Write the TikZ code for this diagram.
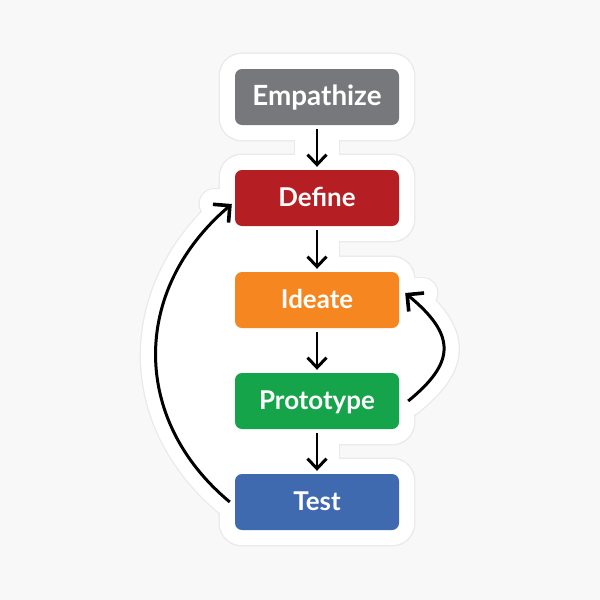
\documentclass[tikz,border=0pt]{standalone}
\usepackage{fontspec}
\setmainfont{Lato}
\usetikzlibrary{arrows.meta,backgrounds,calc}
\definecolor{pagebg}{HTML}{F8F8F8}
\definecolor{halogray}{HTML}{E9E9E9}
\definecolor{cgray}{HTML}{77787B}
\definecolor{cred}{HTML}{B51E23}
\definecolor{corange}{HTML}{F58620}
\definecolor{cgreen}{HTML}{16A44A}
\definecolor{cblue}{HTML}{3F6AB0}
\tikzset{
  x=1pt,y=-1pt,
  stepbox/.style={rounded corners=7pt,minimum width=164pt,minimum height=56pt,inner sep=0pt,
    text=white,font=\fontsize{25.9}{30}\selectfont\bfseries,text height=20pt,text depth=4pt},
  bigtext/.style={font=\fontsize{27.8}{30}\selectfont\bfseries},
  conn/.style={line width=2.8pt,-{Straight Barb[length=10pt,width=19pt,line width=3pt]}},
  loopconn/.style={line width=3pt,-{Straight Barb[length=12pt,width=24pt,line width=3.6pt]}},
}
\newcommand{\stickerpart}[2]{%
  \begin{scope}[draw=#1,fill=#1,line join=round,line cap=round]
    \foreach \n in {emp,def,ide,pro,tes}
      \filldraw[line width=30pt+#2,rounded corners=7pt] (\n.north west) rectangle (\n.south east);
    \foreach \a/\b in {emp/def,def/ide,ide/pro,pro/tes}
      \draw[line width=44pt+#2,line cap=butt] (\a.south) -- (\b.north);
    \filldraw[line width=30pt+#2] (ltail) .. controls (131,420) and (131,290) .. (lhead) -- (def.center) -- (tes.center) -- cycle;
    \filldraw[line width=30pt+#2] (rtail) .. controls (456,362) and (456,335) .. (rhead) -- (ide.center) -- (pro.center) -- cycle;
    \draw[line width=30pt+#2] ($(lhead)+(-17,0)$) -- (lhead) -- ($(lhead)+(0,16)$);
    \draw[line width=30pt+#2] ($(rhead)+(17,0)$) -- (rhead) -- ($(rhead)+(0,16)$);
  \end{scope}}
\begin{document}
\begin{tikzpicture}
\useasboundingbox (0,0) rectangle (600,600);
\node[stepbox,bigtext,fill=cgray] (emp) at (317,97)  {Empathize};
\node[stepbox,fill=cred]    (def) at (317,198) {Define};
\node[stepbox,fill=corange] (ide) at (317,300) {Ideate};
\node[stepbox,fill=cgreen]  (pro) at (317,401) {Prototype};
\node[stepbox,fill=cblue]   (tes) at (317,502) {Test};
\coordinate (ltail) at ($(tes.west)+(-5,0)$);
\coordinate (lhead) at ($(def.west)+(-3,6)$);
\coordinate (rtail) at ($(pro.east)+(9,0)$);
\coordinate (rhead) at ($(ide.east)+(6,-7)$);
\begin{scope}[on background layer]
  \fill[pagebg] (0,0) rectangle (600,600);
  \stickerpart{halogray}{2.5pt}
  \stickerpart{white}{0pt}
\end{scope}
\foreach \a/\b in {emp/def,def/ide,ide/pro,pro/tes}
  \draw[conn,shorten <=4pt,shorten >=3pt] (\a.south) -- (\b.north);
\draw[loopconn] (ltail) .. controls (131,420) and (131,290) .. (lhead);
\draw[loopconn] (rtail) .. controls (456,362) and (456,335) .. (rhead);
\end{tikzpicture}
\end{document}
